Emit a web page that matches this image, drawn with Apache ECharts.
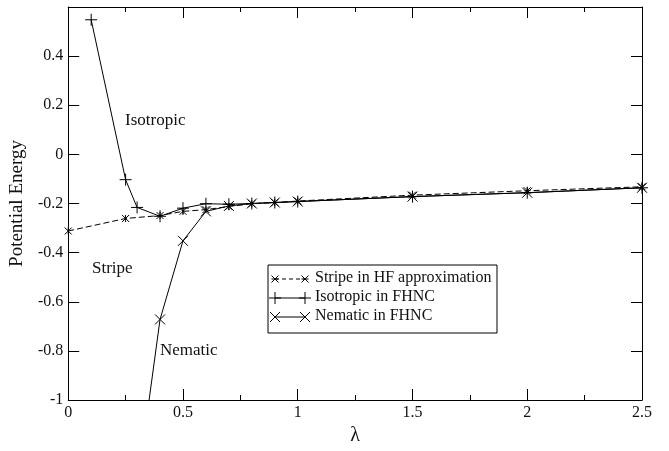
<!DOCTYPE html>
<html><head><meta charset="utf-8">
<script src="https://cdn.jsdelivr.net/npm/echarts@6/dist/echarts.min.js"></script>
<style>html,body{margin:0;padding:0;background:#fff}#c{width:669px;height:451px}</style>
</head><body><div id="c"></div>
<script>
var xTicks = [0, 0.5, 1, 1.5, 2, 2.5];
var yTicks = [-1, -0.8, -0.6, -0.4, -0.2, 0, 0.2, 0.4];
var stripeX = [0, 0.25, 0.4, 0.5, 0.6, 0.7, 0.8, 0.9, 1.0, 1.5, 2.0, 2.5];
var stripeY = [-0.312, -0.261, -0.249, -0.232, -0.225, -0.212, -0.201, -0.196, -0.19, -0.166, -0.148, -0.132];
var isoX = [0.1, 0.25, 0.3, 0.4, 0.5, 0.6, 0.7, 0.8, 0.9, 1.0, 1.5, 2.0, 2.5];
var isoY = [0.548, -0.103, -0.216, -0.252, -0.219, -0.201, -0.203, -0.2, -0.196, -0.192, -0.172, -0.156, -0.136];
var nemX = [0.3, 0.4, 0.5, 0.6, 0.7, 0.8, 0.9, 1.0, 1.5, 2.0, 2.5];
var nemY = [-1.36, -0.672, -0.352, -0.232, -0.21, -0.2, -0.196, -0.192, -0.172, -0.156, -0.136];
var legendNames = ['Stripe in HF approximation', 'Isotropic in FHNC', 'Nematic in FHNC'];

function pairs(xs, ys) { return xs.map(function (x, i) { return [x, ys[i]]; }); }

var FONT = 'Liberation Serif';
var PLUS = 'path://M0,5L10,5M5,0L5,10';
var CROSS = 'path://M0,0L10,10M0,10L10,0';
var STAR = 'path://M0,0L10,10M0,10L10,0M5,0L5,10';

var chart = echarts.init(document.getElementById('c'), null, {renderer: 'canvas'});

var axisCommon = {
  axisLine: {show: true, onZero: false, lineStyle: {color: '#000', width: 1}},
  axisTick: {show: true, inside: true, length: 11, lineStyle: {color: '#000'}},
  splitLine: {show: false}
};

var opt = {
  animation: false,
  backgroundColor: '#fff',
  grid: {left: 67, right: 27, top: 7, bottom: 43, containLabel: false},
  xAxis: [
    Object.assign({}, axisCommon, {
      type: 'value', min: 0, max: 2.5, interval: 0.5, position: 'bottom',
      minorTick: {show: true, splitNumber: 2, length: 5, lineStyle: {color: '#000'}},
      axisLabel: {color: '#111', fontFamily: FONT, fontSize: 16, margin: 5,
        formatter: function (v) { return xTicks.indexOf(+v.toFixed(2)) >= 0 ? String(+v.toFixed(2)) : ''; }},
      name: 'λ', nameLocation: 'middle', nameGap: 26,
      nameTextStyle: {color: '#111', fontFamily: FONT, fontSize: 20}
    }),
    Object.assign({}, axisCommon, {
      type: 'value', min: 0, max: 2.5, interval: 0.5, position: 'top',
      minorTick: {show: true, splitNumber: 2, length: 5, lineStyle: {color: '#000'}},
      axisLabel: {show: false}
    })
  ],
  yAxis: [
    Object.assign({}, axisCommon, {
      type: 'value', min: -1, max: 0.6, interval: 0.2, position: 'left',
      axisLabel: {color: '#111', fontFamily: FONT, fontSize: 16, margin: 5,
        formatter: function (v) { var r = +v.toFixed(2); return yTicks.indexOf(r) >= 0 ? String(r) : ''; }},
      name: 'Potential Energy', nameLocation: 'middle', nameGap: 37, nameRotate: 90,
      nameTextStyle: {color: '#111', fontFamily: FONT, fontSize: 19}
    }),
    Object.assign({}, axisCommon, {
      type: 'value', min: -1, max: 0.6, interval: 0.2, position: 'right',
      axisLabel: {show: false}
    })
  ],
  series: [
    {
      name: legendNames[0], type: 'line', data: pairs(stripeX, stripeY),
      symbol: STAR, symbolSize: 7, showAllSymbol: true,
      lineStyle: {color: '#000', width: 1, type: [6, 3]},
      itemStyle: {color: 'transparent', borderColor: '#000', borderWidth: 1}
    },
    {
      name: legendNames[1], type: 'line', data: pairs(isoX, isoY),
      symbol: PLUS, symbolSize: 12, showAllSymbol: true,
      lineStyle: {color: '#000', width: 1},
      itemStyle: {color: 'transparent', borderColor: '#000', borderWidth: 1}
    },
    {
      name: legendNames[2], type: 'line', data: pairs(nemX, nemY),
      symbol: CROSS, symbolSize: 10, showAllSymbol: true, clip: true,
      lineStyle: {color: '#000', width: 1},
      itemStyle: {color: 'transparent', borderColor: '#000', borderWidth: 1}
    }
  ],
  graphic: []
};

function txt(x, y, s) {
  return {type: 'text', left: x, top: y, style: {text: s, fill: '#111', font: '17px "' + FONT + '"'}};
}
var g = [];
g.push(txt(125, 112, 'Isotropic'));
g.push(txt(92, 260, 'Stripe'));
g.push(txt(160, 342, 'Nematic'));

var lx = 268, ly = 265, lw = 229, lh = 68;
g.push({type: 'rect', shape: {x: lx, y: ly, width: lw, height: lh}, style: {fill: '#fff', stroke: '#000', lineWidth: 1}, z: 10});
var rowY = [279, 298, 317];
var syms = [
  {dash: [4, 3], m: 'star', s: 3.5},
  {dash: null, m: 'plus', s: 6},
  {dash: null, m: 'cross', s: 5}
];
function marker(kind, cx, cy, s) {
  var out = [];
  function ln(x1, y1, x2, y2) { out.push({type: 'line', shape: {x1: x1, y1: y1, x2: x2, y2: y2}, style: {stroke: '#000', lineWidth: 1}, z: 11}); }
  if (kind === 'plus' || kind === 'star') { ln(cx - s, cy, cx + s, cy); }
  if (kind === 'plus') { ln(cx, cy - s, cx, cy + s); }
  if (kind === 'cross' || kind === 'star') { ln(cx - s, cy - s, cx + s, cy + s); ln(cx - s, cy + s, cx + s, cy - s); }
  return out;
}
for (var i = 0; i < 3; i++) {
  var y = rowY[i];
  g.push({type: 'line', shape: {x1: 275, y1: y, x2: 305, y2: y},
    style: {stroke: '#000', lineWidth: 1, lineDash: syms[i].dash || null}, z: 11});
  g = g.concat(marker(syms[i].m, 275, y, syms[i].s));
  g = g.concat(marker(syms[i].m, 305, y, syms[i].s));
  g.push({type: 'text', left: 315, top: y - 9, z: 11, style: {text: legendNames[i], fill: '#111', font: '16px "' + FONT + '"'}});
}
opt.graphic = g;
chart.setOption(opt);
</script>
</body></html>
